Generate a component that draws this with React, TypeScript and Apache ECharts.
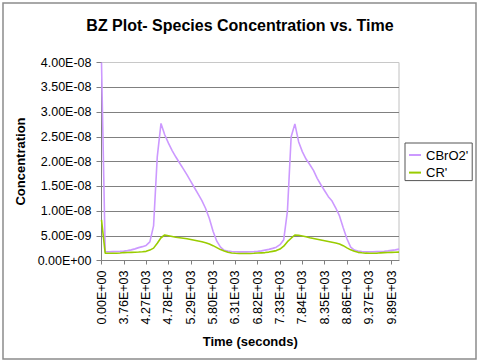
import React, { useEffect, useRef } from "react";
import * as echarts from "echarts";

// Time (s) for each sample; only every 6th is labelled on the axis
const times: number[] = [
  0, 8, 40, 300, 1200, 2500, 3758, 3843, 3928, 4013, 4098, 4184, 4269, 4354, 4439, 4524, 4609,
  4694, 4779, 4864, 4949, 5035, 5120, 5205, 5290, 5375, 5460, 5545, 5630, 5715, 5800, 5886,
  5971, 6056, 6141, 6226, 6311, 6396, 6481, 6566, 6652, 6737, 6822, 6907, 6992, 7077, 7162,
  7247, 7332, 7417, 7503, 7588, 7673, 7758, 7843, 7928, 8013, 8098, 8183, 8268, 8354, 8439,
  8524, 8609, 8694, 8779, 8864, 8949, 9034, 9120, 9205, 9290, 9374, 9460, 9545, 9630, 9715,
  9800, 9885, 9971, 10056,
];

// CBrO2' concentration
const cbro2: number[] = [
  4.0e-8, 1.78e-9, 1.78e-9, 1.8e-9, 1.82e-9, 1.85e-9, 1.9e-9, 2.0e-9, 2.15e-9, 2.35e-9, 2.6e-9,
  2.8e-9, 3.05e-9, 3.75e-9, 7.0e-9, 2.1e-8, 2.77e-8, 2.54e-8, 2.37e-8, 2.22e-8, 2.09e-8,
  1.97e-8, 1.85e-8, 1.73e-8, 1.6e-8, 1.47e-8, 1.34e-8, 1.21e-8, 1.05e-8, 8.5e-9, 5.9e-9,
  3.9e-9, 2.7e-9, 2.05e-9, 1.9e-9, 1.82e-9, 1.78e-9, 1.75e-9, 1.75e-9, 1.75e-9, 1.78e-9,
  1.8e-9, 1.85e-9, 1.95e-9, 2.1e-9, 2.25e-9, 2.45e-9, 2.7e-9, 3.2e-9, 4.2e-9, 1.0e-8, 2.5e-8,
  2.76e-8, 2.4e-8, 2.2e-8, 2.05e-8, 1.94e-8, 1.82e-8, 1.66e-8, 1.53e-8, 1.41e-8, 1.29e-8,
  1.2e-8, 1.06e-8, 9.0e-9, 6.6e-9, 4.4e-9, 2.7e-9, 2.1e-9, 1.9e-9, 1.8e-9, 1.78e-9, 1.78e-9,
  1.78e-9, 1.8e-9, 1.82e-9, 1.87e-9, 1.95e-9, 2.05e-9, 2.15e-9, 2.3e-9,
];

// CR' concentration
const cr: number[] = [
  8.2e-9, 1.45e-9, 1.45e-9, 1.45e-9, 1.45e-9, 1.5e-9, 1.6e-9, 1.62e-9, 1.65e-9, 1.68e-9,
  1.72e-9, 1.78e-9, 1.85e-9, 2.1e-9, 2.5e-9, 3.5e-9, 4.6e-9, 5.15e-9, 5.0e-9, 4.85e-9,
  4.7e-9, 4.6e-9, 4.5e-9, 4.4e-9, 4.25e-9, 4.1e-9, 3.95e-9, 3.8e-9, 3.6e-9, 3.35e-9, 3.0e-9,
  2.6e-9, 2.2e-9, 1.9e-9, 1.65e-9, 1.5e-9, 1.45e-9, 1.42e-9, 1.42e-9, 1.42e-9, 1.42e-9,
  1.45e-9, 1.5e-9, 1.55e-9, 1.6e-9, 1.7e-9, 1.85e-9, 2.0e-9, 2.3e-9, 2.9e-9, 3.8e-9, 4.5e-9,
  5.15e-9, 5.1e-9, 4.95e-9, 4.8e-9, 4.6e-9, 4.45e-9, 4.3e-9, 4.15e-9, 4.0e-9, 3.85e-9,
  3.7e-9, 3.55e-9, 3.35e-9, 3.0e-9, 2.55e-9, 2.15e-9, 1.85e-9, 1.65e-9, 1.55e-9, 1.48e-9,
  1.45e-9, 1.45e-9, 1.45e-9, 1.55e-9, 1.6e-9, 1.62e-9, 1.65e-9, 1.68e-9, 1.7e-9,
];

const seriesNames = ["CBrO2'", "CR'"];
const titleText = "BZ Plot- Species Concentration vs. Time";
const xTitle = "Time (seconds)";
const yTitle = "Concentration";

const FONT = "'Liberation Sans', Arial, sans-serif";

function fmtExp(v: number): string {
  const s = Number(v).toExponential(2).toUpperCase();
  return s.replace(/E([+-])(\d)$/, (_m: string, sign: string, d: string) => "E" + sign + "0" + d);
}

export default function App() {
  const ref = useRef<HTMLDivElement>(null);
  useEffect(() => {
    if (!ref.current) return;
    const chart = echarts.init(ref.current, undefined, { renderer: "svg" });
    const categories = times.map(fmtExp);
    chart.setOption({
      animation: false,
      backgroundColor: "#ffffff",
      textStyle: { fontFamily: FONT },
      title: {
        text: titleText,
        left: "center",
        top: 17,
        padding: 0,
        textStyle: { fontSize: 16, fontWeight: "bold", color: "#000", fontFamily: FONT, lineHeight: 16 },
      },
      graphic: [
        {
          type: "rect",
          shape: { x: 3, y: 3, width: 473, height: 356 },
          style: { fill: "none", stroke: "#8c8c8c", lineWidth: 1.5 },
          silent: true,
        },
      ],
      legend: {
        orient: "vertical",
        left: 405,
        top: 143,
        icon: "rect",
        itemWidth: 12,
        itemHeight: 2,
        itemGap: 3.6,
        padding: [5, 4, 1, 4],
        borderColor: "#555",
        borderWidth: 1,
        textStyle: { fontSize: 13, color: "#000", fontFamily: FONT, lineHeight: 14 },
        data: seriesNames,
      },
      grid: {
        left: 101.5,
        top: 62.5,
        width: 297.5,
        height: 198,
        show: true,
        borderColor: "#c0c0c0",
        borderWidth: 1,
        backgroundColor: "#ffffff",
      },
      xAxis: {
        type: "category",
        data: categories,
        boundaryGap: false,
        axisLine: { lineStyle: { color: "#808080", width: 1 } },
        axisTick: { show: true, interval: 5, length: 4, lineStyle: { color: "#808080" } },
        axisLabel: {
          interval: 5,
          rotate: 90,
          margin: 10,
          fontSize: 12.5,
          color: "#000",
          fontFamily: FONT,
        },
        splitLine: { show: false },
        name: xTitle,
        nameLocation: "middle",
        nameGap: 74,
        nameTextStyle: { fontSize: 13, fontWeight: "bold", color: "#000", fontFamily: FONT },
      },
      yAxis: {
        type: "value",
        min: 0,
        max: 4e-8,
        interval: 5e-9,
        axisLine: { show: true, lineStyle: { color: "#808080", width: 1 } },
        axisTick: { show: true, length: 5, lineStyle: { color: "#808080" } },
        axisLabel: {
          margin: 10,
          fontSize: 12.5,
          color: "#000",
          fontFamily: FONT,
          formatter: (v: number) => fmtExp(v),
        },
        splitLine: {
          show: true,
          lineStyle: {
            color: ["#808080", "#808080", "#808080", "#808080", "#808080", "#808080", "#808080", "#808080", "#c8c8c8"],
            width: 1,
          },
        },
        name: yTitle,
        nameLocation: "middle",
        nameGap: 73,
        nameTextStyle: { fontSize: 13, fontWeight: "bold", color: "#000", fontFamily: FONT },
      },
      series: [
        {
          name: seriesNames[0],
          type: "line",
          data: cbro2,
          symbol: "none",
          color: "#CC99FF",
          lineStyle: { color: "#CC99FF", width: 1.6 },
          emphasis: { disabled: true },
        },
        {
          name: seriesNames[1],
          type: "line",
          data: cr,
          symbol: "none",
          color: "#99CC00",
          lineStyle: { color: "#99CC00", width: 1.6 },
          emphasis: { disabled: true },
        },
      ],
    });
    return () => chart.dispose();
  }, []);
  return (
    <div
      ref={ref}
      style={{ position: "fixed", left: 0, top: 0, width: 480, height: 363 }}
    />
  );
}
